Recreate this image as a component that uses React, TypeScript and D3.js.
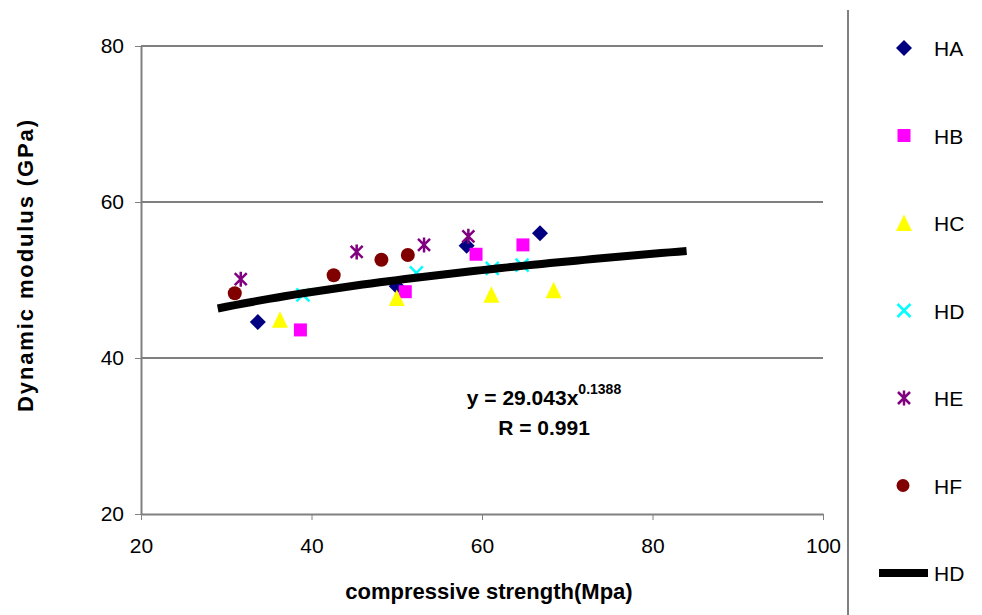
import React, { useEffect, useRef } from "react";
import * as d3 from "d3";

// series (x = compressive strength, y = dynamic modulus)
const seriesNames = ["HA", "HB", "HC", "HD", "HE", "HF"];
const haX = [33.7, 50.0, 58.2, 66.8];
const haY = [44.6, 49.2, 54.4, 56.0];
const hbX = [38.7, 51.0, 59.3, 64.8];
const hbY = [43.6, 48.5, 53.3, 54.5];
const hcX = [36.3, 50.0, 61.1, 68.4];
const hcY = [44.9, 47.7, 48.1, 48.7];
const hdX = [39.0, 52.3, 61.2, 64.7];
const hdY = [48.1, 50.9, 51.5, 51.9];
const heX = [31.7, 45.3, 53.2, 58.4];
const heY = [50.1, 53.6, 54.5, 55.6];
const hfX = [31.0, 42.6, 48.2, 51.3];
const hfY = [48.3, 50.6, 52.6, 53.2];

const xTicks = [20, 40, 60, 80, 100];
const yTicks = [20, 40, 60, 80];
const fitA = 29.043;
const fitB = 0.1388;
const fitRange = [29, 84];
const fitLabel = "HD";

const colors = ["#000080", "#ff00ff", "#ffff00", "#00ffff", "#800080", "#800000"];
const shapes = ["diamond", "square", "triangle", "x", "star", "circle"];

const symbolPath = (shape: string) => {
  switch (shape) {
    case "diamond":
      return "M0,-8L8,0L0,8L-8,0Z";
    case "square":
      return "M-6.5,-6.5H6.5V6.5H-6.5Z";
    case "triangle":
      return "M0,-8.5L8,8H-8Z";
    case "x":
      return "M-6.5,-6.5L6.5,6.5M6.5,-6.5L-6.5,6.5";
    case "star":
      return "M-6,-6L6,6M6,-6L-6,6M0,-7.5V7.5";
    default:
      return "";
  }
};

const App = () => {
  const ref = useRef<SVGSVGElement>(null);

  useEffect(() => {
    const svg = d3.select(ref.current);
    svg.selectAll("*").remove();
    const font = "'Liberation Sans', Arial, sans-serif";

    const x = d3.scaleLinear().domain([20, 100]).range([141, 823]);
    const y = d3.scaleLinear().domain([20, 80]).range([514, 46]);

    const data = [
      [haX, haY],
      [hbX, hbY],
      [hcX, hcY],
      [hdX, hdY],
      [heX, heY],
      [hfX, hfY],
    ];

    // gridlines
    svg
      .selectAll(".grid")
      .data(yTicks.filter((t) => t > 20 && t < 80))
      .enter()
      .append("line")
      .attr("x1", x(20))
      .attr("x2", x(100))
      .attr("y1", (d) => y(d))
      .attr("y2", (d) => y(d))
      .attr("stroke", "#000")
      .attr("stroke-width", 1);

    // top border
    svg
      .append("line")
      .attr("x1", x(20))
      .attr("x2", x(100))
      .attr("y1", y(80))
      .attr("y2", y(80))
      .attr("stroke", "#808080")
      .attr("stroke-width", 2);

    // axes
    const gx = svg
      .append("g")
      .attr("transform", `translate(0,${y(20)})`)
      .call(d3.axisBottom(x).tickValues(xTicks).tickSize(6).tickSizeOuter(0).tickPadding(18));
    const gy = svg
      .append("g")
      .attr("transform", `translate(${x(20)},0)`)
      .call(d3.axisLeft(y).tickValues(yTicks).tickSize(6).tickSizeOuter(0).tickPadding(11));
    [gx, gy].forEach((g) => {
      g.select(".domain").attr("stroke", "#808080").attr("stroke-width", 2);
      g.selectAll(".tick line").attr("stroke", "#808080");
      g.selectAll(".tick text")
        .attr("fill", "#000")
        .style("font-family", font)
        .style("font-size", "21px");
    });

    // points
    data.forEach(([xs, ys], i) => {
      const pts = xs.map((v, j) => [v, ys[j]]);
      const g = svg.append("g");
      if (shapes[i] === "circle") {
        g.selectAll("circle")
          .data(pts)
          .enter()
          .append("circle")
          .attr("cx", (d) => x(d[0]))
          .attr("cy", (d) => y(d[1]))
          .attr("r", 7)
          .attr("fill", colors[i]);
      } else {
        const lineShape = shapes[i] === "x" || shapes[i] === "star";
        g.selectAll("path")
          .data(pts)
          .enter()
          .append("path")
          .attr("transform", (d) => `translate(${x(d[0])},${y(d[1])})`)
          .attr("d", symbolPath(shapes[i]))
          .attr("fill", lineShape ? "none" : colors[i])
          .attr("stroke", lineShape ? colors[i] : "none")
          .attr("stroke-width", 2.5);
      }
    });

    // power fit line
    const fitPts = d3.range(fitRange[0], fitRange[1] + 0.5, 1).map((v) => [v, fitA * Math.pow(v, fitB)]);
    svg
      .append("path")
      .datum(fitPts)
      .attr(
        "d",
        d3
          .line<number[]>()
          .x((d) => x(d[0]))
          .y((d) => y(d[1]))
      )
      .attr("fill", "none")
      .attr("stroke", "#000")
      .attr("stroke-width", 8);

    // equation
    const eq = svg
      .append("text")
      .attr("x", 544)
      .attr("y", 405)
      .attr("text-anchor", "middle")
      .style("font-family", font)
      .style("font-size", "21px")
      .style("font-weight", "bold");
    eq.append("tspan").text(`y = ${fitA}x`);
    eq.append("tspan").attr("dy", -11).style("font-size", "14px").text(fitB);
    svg
      .append("text")
      .attr("x", 544)
      .attr("y", 435)
      .attr("text-anchor", "middle")
      .style("font-family", font)
      .style("font-size", "21px")
      .style("font-weight", "bold")
      .text("R = 0.991");

    // axis titles
    svg
      .append("text")
      .attr("transform", "translate(33,266) rotate(-90)")
      .attr("text-anchor", "middle")
      .attr("textLength", 292)
      .attr("lengthAdjust", "spacing")
      .style("font-family", font)
      .style("font-size", "22px")
      .style("font-weight", "bold")
      .text("Dynamic modulus  (GPa)");
    svg
      .append("text")
      .attr("x", 489)
      .attr("y", 599)
      .attr("text-anchor", "middle")
      .style("font-family", font)
      .style("font-size", "22px")
      .style("font-weight", "bold")
      .text("compressive strength(Mpa)");

    // legend
    svg
      .append("line")
      .attr("x1", 848)
      .attr("x2", 848)
      .attr("y1", 10)
      .attr("y2", 615)
      .attr("stroke", "#000")
      .attr("stroke-width", 1);
    const ly = d3.scalePoint<number>().domain(d3.range(7)).range([48, 573]);
    seriesNames.forEach((name, i) => {
      const cy = ly(i) as number;
      if (shapes[i] === "circle") {
        svg.append("circle").attr("cx", 903).attr("cy", cy).attr("r", 6.5).attr("fill", colors[i]);
      } else {
        const lineShape = shapes[i] === "x" || shapes[i] === "star";
        svg
          .append("path")
          .attr("transform", `translate(904,${cy})`)
          .attr("d", symbolPath(shapes[i]))
          .attr("fill", lineShape ? "none" : colors[i])
          .attr("stroke", lineShape ? colors[i] : "none")
          .attr("stroke-width", 2.5);
      }
      svg
        .append("text")
        .attr("x", 934)
        .attr("y", cy + 8)
        .style("font-family", font)
        .style("font-size", "21px")
        .text(name);
    });
    const lastY = ly(6) as number;
    svg
      .append("line")
      .attr("x1", 879)
      .attr("x2", 928)
      .attr("y1", lastY)
      .attr("y2", lastY)
      .attr("stroke", "#000")
      .attr("stroke-width", 8);
    svg
      .append("text")
      .attr("x", 934)
      .attr("y", lastY + 8)
      .style("font-family", font)
      .style("font-size", "21px")
      .text(fitLabel);
  }, []);

  return (
    <svg
      ref={ref}
      width={982}
      height={615}
      style={{ position: "absolute", left: 0, top: 0, background: "#fff" }}
    />
  );
};

export default App;
